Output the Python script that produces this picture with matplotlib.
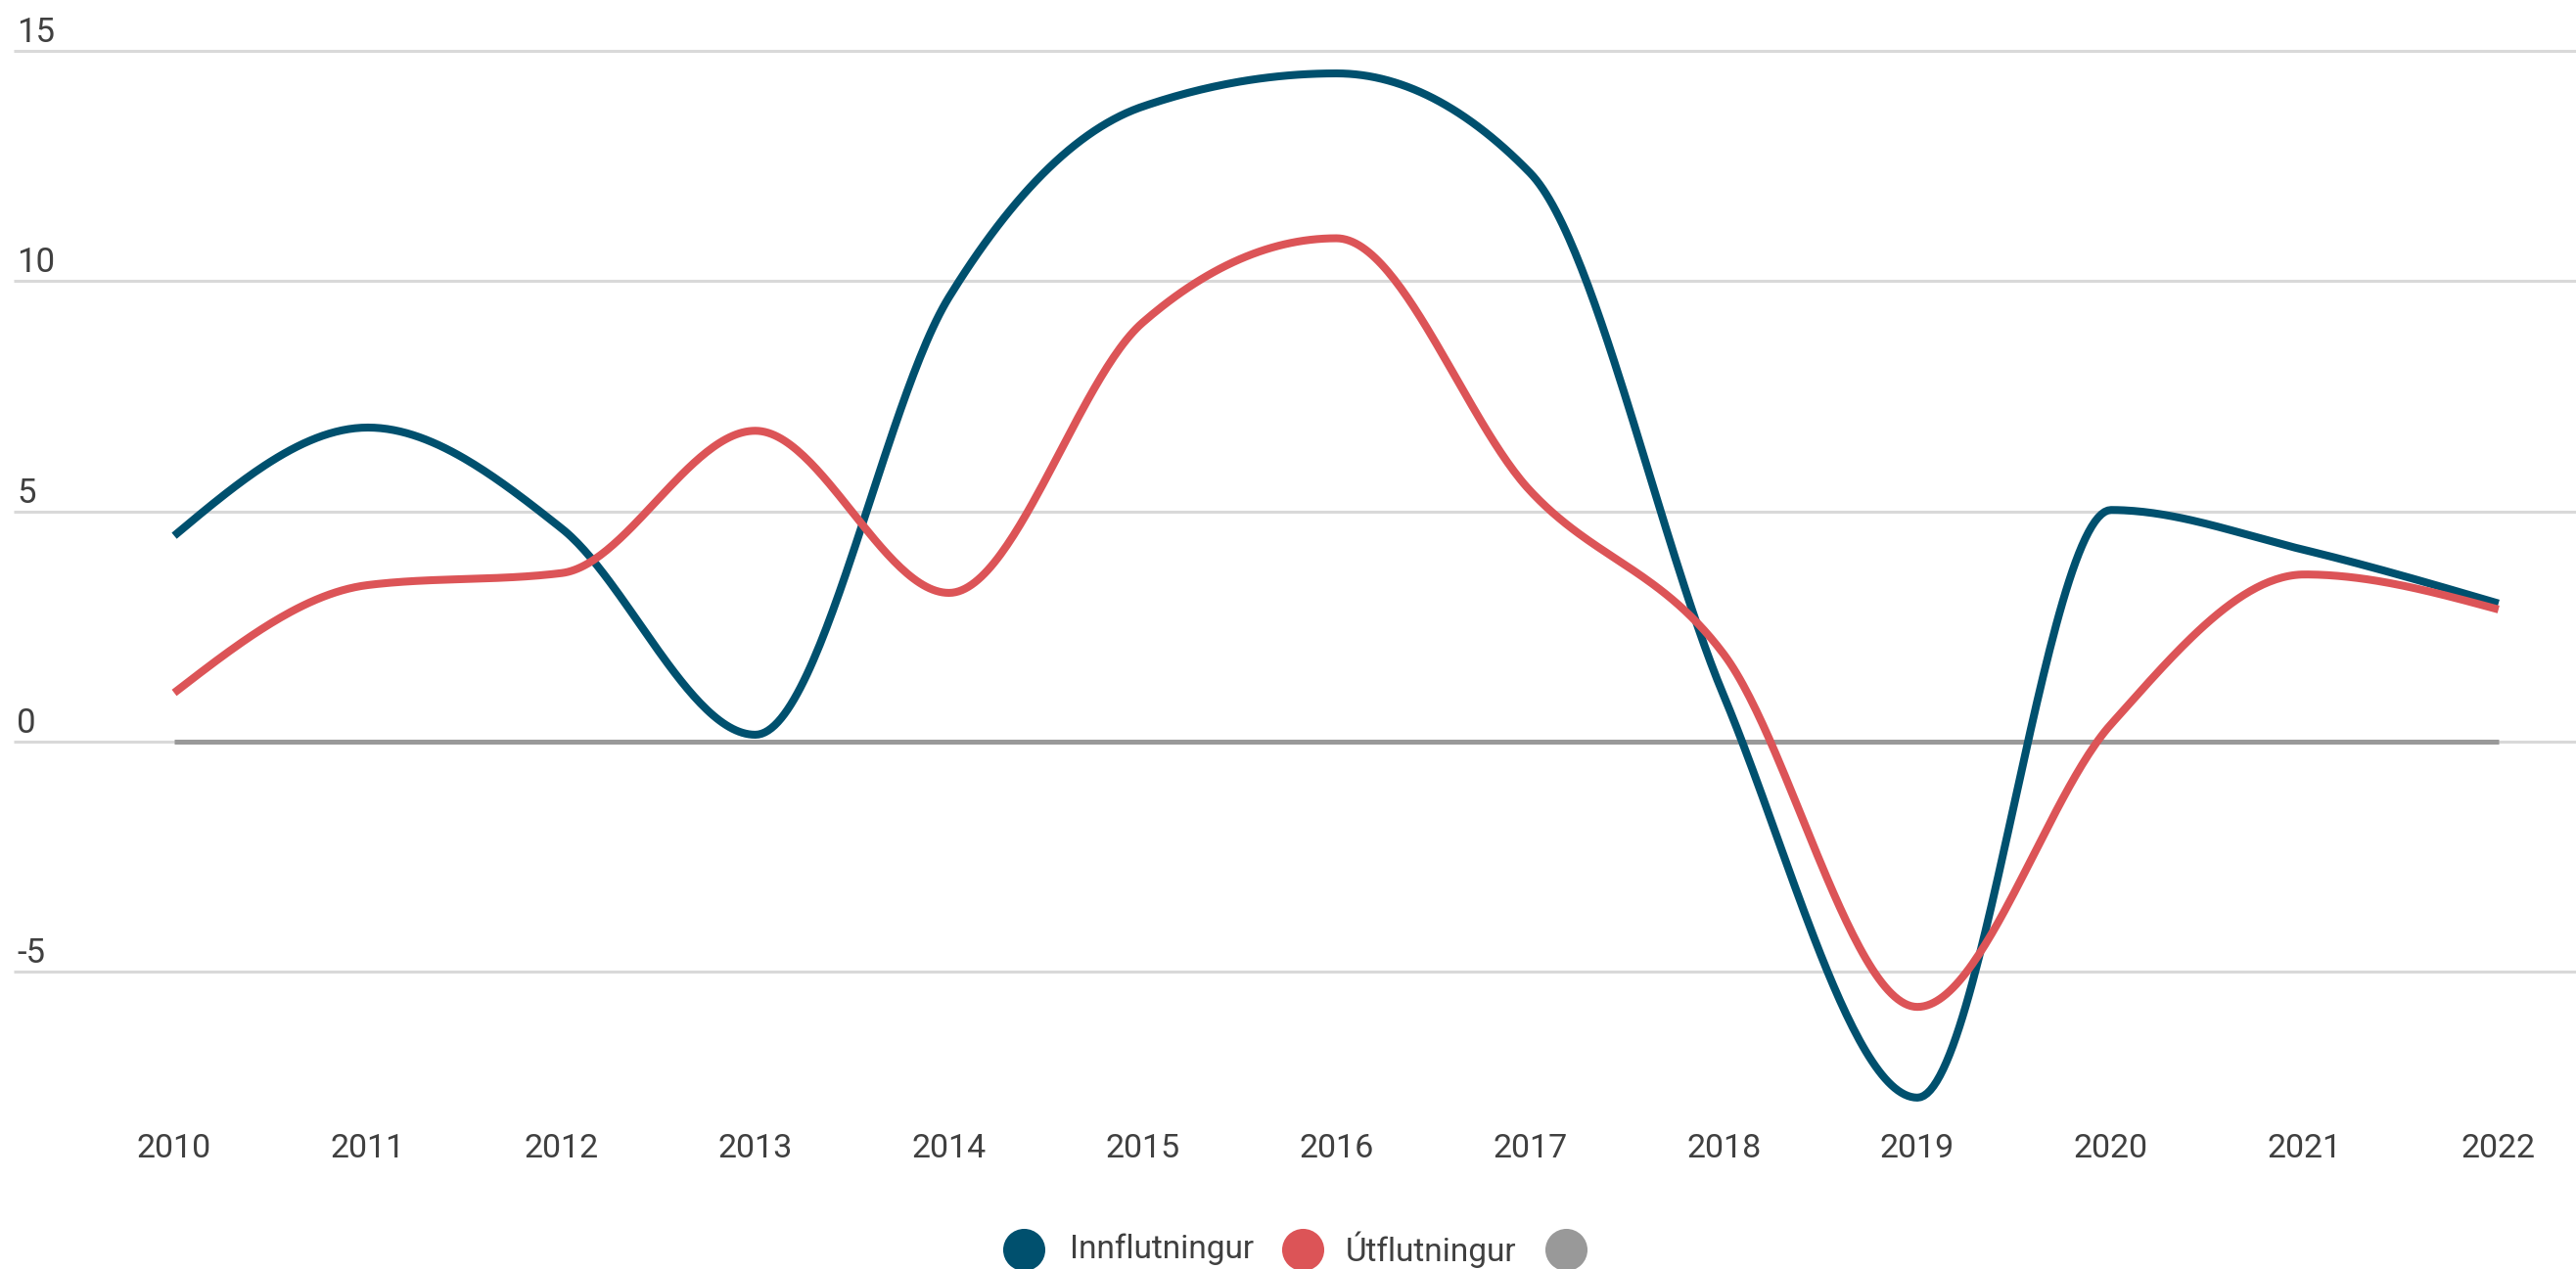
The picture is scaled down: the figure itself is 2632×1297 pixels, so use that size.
import numpy as np
import matplotlib
matplotlib.use("Agg")
import matplotlib.pyplot as plt
from matplotlib.lines import Line2D

# ---- data ----
years = [2010, 2011, 2012, 2013, 2014, 2015, 2016, 2017, 2018, 2019, 2020, 2021, 2022]
innflutningur = [4.47, 6.82, 4.63, 0.15, 9.65, 13.79, 14.51, 12.35, 1.0, -7.73, 5.03, 4.16, 3.0]
utflutningur = [1.06, 3.40, 3.66, 6.75, 3.23, 9.10, 10.93, 5.45, 1.9, -5.76, 0.38, 3.63, 2.87]
zero_series = [0] * len(years)
series_names = ["Innflutningur", "Útflutningur", ""]
y_ticks = [-5, 0, 5, 10, 15]

colors = ["#00506E", "#DC5457", "#999999"]
text_color = "#404040"
grid_color = "#D9D9D9"

plt.rcParams['font.family'] = ['Roboto', 'DejaVu Sans']

W, H = 2632, 1297
DPI = 100
fig = plt.figure(figsize=(W / DPI, H / DPI), dpi=DPI)
ax = fig.add_axes([0, 0, 1, 1])
ax.set_axis_off()

# pixel mapping (layout)
x0_px, dx_px = 178.0, 197.9
y0_px, dy_px = 758.0, 47.07
ax.set_xlim(2010 - x0_px / dx_px, 2010 + (W - x0_px) / dx_px)
ax.set_ylim(-(H - y0_px) / dy_px, y0_px / dy_px)


def monotone_x(x, y, n=60):
    """d3 curveMonotoneX (Steffen) interpolation."""
    x = np.asarray(x, float)
    y = np.asarray(y, float)
    h = np.diff(x)
    s = np.diff(y) / h
    m = np.zeros_like(y)
    for i in range(1, len(x) - 1):
        h0, h1 = h[i - 1], h[i]
        s0, s1 = s[i - 1], s[i]
        p = (s0 * h1 + s1 * h0) / (h0 + h1)
        m[i] = (np.sign(s0) + np.sign(s1)) * min(abs(s0), abs(s1), 0.5 * abs(p))
    m[0] = (3 * s[0] - m[1]) / 2
    m[-1] = (3 * s[-1] - m[-2]) / 2
    xs, ys = [], []
    for i in range(len(x) - 1):
        t = np.linspace(0, 1, n, endpoint=(i == len(x) - 2))
        hh = h[i]
        h00 = 2 * t**3 - 3 * t**2 + 1
        h10 = t**3 - 2 * t**2 + t
        h01 = -2 * t**3 + 3 * t**2
        h11 = t**3 - t**2
        xs.append(x[i] + t * hh)
        ys.append(h00 * y[i] + h10 * hh * m[i] + h01 * y[i + 1] + h11 * hh * m[i + 1])
    return np.concatenate(xs), np.concatenate(ys)


# gridlines
grid_left = 2010 - (x0_px - 14) / dx_px
for v in y_ticks:
    ax.plot([grid_left, ax.get_xlim()[1]], [v, v], color=grid_color, lw=2.2,
            solid_capstyle='butt', zorder=1)
    ax.text(2010 - (x0_px - 17) / dx_px, v + 9 / dy_px, f"{v}", color=text_color,
            fontsize=25, ha='left', va='baseline', zorder=5)

# zero series (gray)
ax.plot(years, zero_series, color=colors[2], lw=3.6, solid_capstyle='butt', zorder=2)

# lines
for vals, c in [(innflutningur, colors[0]), (utflutningur, colors[1])]:
    xs, ys = monotone_x(years, vals)
    ax.plot(xs, ys, color=c, lw=5.8, solid_capstyle='butt', solid_joinstyle='round', zorder=3)

# x labels
for yr in years:
    ax.text(yr, -(1183 - y0_px) / dy_px, str(yr), color=text_color, fontsize=24.5,
            ha='center', va='baseline')

# legend (manual)
leg_y = 1 - 1277 / H
leg_items = [(1046, 1093, series_names[0], colors[0]),
             (1331, 1375, series_names[1], colors[1]),
             (1600, None, series_names[2], colors[2])]
for cx, tx, name, c in leg_items:
    fig.add_artist(Line2D([cx / W], [leg_y], marker='o', markersize=31, color=c,
                          markeredgewidth=0, linestyle='none', transform=fig.transFigure))
    if tx is not None and name:
        fig.text(tx / W, leg_y, name, color=text_color, fontsize=24,
                 ha='left', va='center')

fig.savefig("out.png", dpi=DPI, facecolor='white')
